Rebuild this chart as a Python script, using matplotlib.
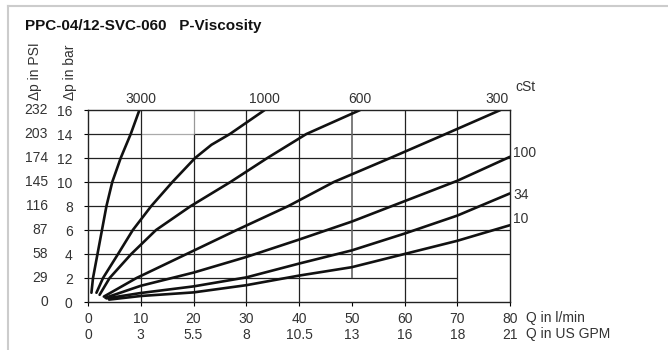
import matplotlib
matplotlib.use("Agg")
import matplotlib.pyplot as plt
from matplotlib.lines import Line2D

plt.rcParams['font.family'] = ['Liberation Sans', 'DejaVu Sans']

# flow ticks (l/min and US GPM) and pressure ticks (bar and PSI)
q_ticks = [0, 10, 20, 30, 40, 50, 60, 70, 80]
gpm_labels = ['0', '3', '5.5', '8', '10.5', '13', '16', '18', '21']
bar_ticks = [0, 2, 4, 6, 8, 10, 12, 14, 16]
psi_labels = ['0', '29', '58', '87', '116', '145', '174', '203', '232']

# viscosity curves (Q in l/min, dp in bar)
q_3000 = [0.65, 0.95, 1.8, 2.65, 3.5, 4.6, 6.2, 8.1, 9.75]
p_3000 = [0.77, 2, 4, 6, 8, 10, 12, 14, 16]
q_1000 = [1.6, 2.85, 5.7, 8.5, 12, 16, 20.3, 23.4, 26.9, 33.5]
p_1000 = [0.77, 2, 4, 6, 8, 10, 12, 13.1, 14, 16]
q_600 = [2.2, 4.1, 8.2, 12.9, 19.5, 27, 34, 41.4, 51.6]
p_600 = [0.6, 2, 4, 6, 8, 10, 12, 14, 16]
q_300 = [3.0, 9.2, 18.7, 28.2, 38, 46.6, 57.3, 67.8, 78.2]
p_300 = [0.45, 2, 4, 6, 8, 10, 12, 14, 16]
q_100 = [3.3, 10, 20, 30, 40, 50, 60, 70, 80]
p_100 = [0.35, 1.35, 2.45, 3.75, 5.2, 6.7, 8.4, 10.1, 12.1]
q_34 = [3.5, 10, 20, 30, 40, 50, 60, 70, 80]
p_34 = [0.3, 0.75, 1.3, 2.05, 3.2, 4.3, 5.7, 7.2, 9.05]
q_10 = [4, 10, 20, 30, 40, 50, 60, 70, 80]
p_10 = [0.2, 0.5, 0.8, 1.4, 2.2, 2.9, 4.0, 5.1, 6.4]

fig = plt.figure(figsize=(6.68, 3.5), dpi=100)
ax = fig.add_axes([88/668, 48/350, 422/668, 192/350])

# light frame of the panel
fig.add_artist(Line2D([8/668, 8/668], [0, 344/350], color='#cccccc', lw=1.5))
fig.add_artist(Line2D([8/668, 1], [344/350, 344/350], color='#cccccc', lw=1.5))

# grid (a few segments are missing in the original)
gc = '#222222'
ax.hlines(2, 0, 70, color=gc, lw=0.9)
for y in [4, 6, 8, 10, 12]:
    ax.hlines(y, 0, 80, color=gc, lw=0.9)
ax.hlines(14, 0, 10, color=gc, lw=0.9)
ax.hlines(14, 10, 20, color='#aaaaaa', lw=0.9)
ax.hlines(14, 20, 80, color=gc, lw=0.9)
for x in [10, 30, 40, 60, 70]:
    ax.vlines(x, 0, 16, color=gc, lw=0.9)
ax.vlines(20, 0, 14, color=gc, lw=0.9)
ax.vlines(20, 14, 16, color='#999999', lw=0.9)
ax.vlines(50, 2, 16, color='#666666', lw=1.2)

for q, p in [(q_3000, p_3000), (q_1000, p_1000), (q_600, p_600), (q_300, p_300),
             (q_100, p_100), (q_34, p_34), (q_10, p_10)]:
    ax.plot(q, p, color='#111111', lw=1.9, solid_capstyle='round', solid_joinstyle='round')

ax.set_xlim(0, 80)
ax.set_ylim(0, 16)
for s in ax.spines.values():
    s.set_color('#222222')
    s.set_linewidth(1.0)

fs = 10
tc = '#333333'
ax.set_xticks(q_ticks)
ax.set_xticklabels([f'{q}\n{g}' for q, g in zip(q_ticks, gpm_labels)], linespacing=1.2)
ax.set_yticks(bar_ticks)
ax.set_yticklabels([str(b) for b in bar_ticks])
ax.tick_params(axis='x', length=3, width=0.8, pad=4, labelsize=fs, labelcolor=tc)
ax.tick_params(axis='y', length=3, width=0.8, pad=8, labelsize=fs, labelcolor=tc)

ytr = ax.get_yaxis_transform()
for b, s in zip(bar_ticks, psi_labels):
    ax.text(-0.095, b, s, transform=ytr, ha='right', va='center', fontsize=fs, color=tc)

# viscosity labels
ax.text(10, 16.3, '3000', ha='center', va='bottom', fontsize=fs, color=tc)
ax.text(33.5, 16.3, '1000', ha='center', va='bottom', fontsize=fs, color=tc)
ax.text(51.5, 16.3, '600', ha='center', va='bottom', fontsize=fs, color=tc)
ax.text(77.5, 16.3, '300', ha='center', va='bottom', fontsize=fs, color=tc)
ax.text(81, 17.3, 'cSt', ha='left', va='bottom', fontsize=fs, color=tc)
ax.text(80.6, 12.4, '100', ha='left', va='center', fontsize=fs, color=tc)
ax.text(80.6, 8.9, '34', ha='left', va='center', fontsize=fs, color=tc)
ax.text(80.6, 6.9, '10', ha='left', va='center', fontsize=fs, color=tc)

fig.text(526/668, 1 - 318/350, 'Q in l/min', ha='left', va='center', fontsize=fs, color=tc)
fig.text(526/668, 1 - 334/350, 'Q in US GPM', ha='left', va='center', fontsize=fs, color=tc)

fig.text(35/668, 1 - 100/350, 'Δp in PSI', rotation=90, ha='center', va='bottom', fontsize=fs, color=tc)
fig.text(70/668, 1 - 100/350, 'Δp in bar', rotation=90, ha='center', va='bottom', fontsize=fs, color=tc)

fig.text(25/668, 1 - 26/350, 'PPC-04/12-SVC-060   P-Viscosity', ha='left', va='center',
         fontsize=11, fontweight='bold', color='#111111')

fig.savefig('out.png', dpi=100)
